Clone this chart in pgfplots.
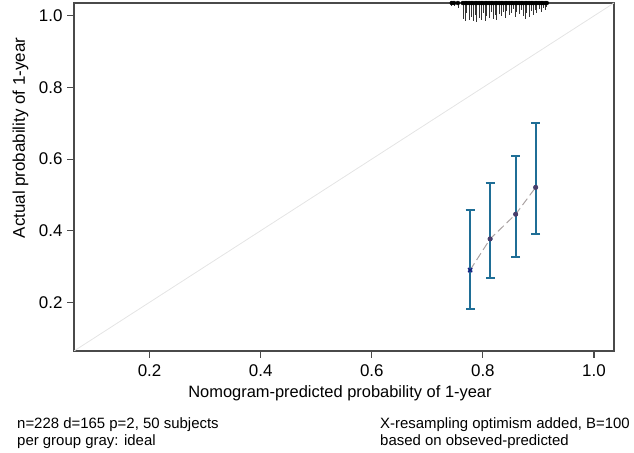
\documentclass[border=0pt]{standalone}
\usepackage{pgfplots}
\pgfplotsset{compat=1.18}
\usepackage{fontspec}
\setmainfont{Liberation Sans}
\definecolor{framegray}{HTML}{4A4A4A}
\definecolor{barteal}{HTML}{1F6E96}
\definecolor{ptpurple}{HTML}{4A3D6A}
\definecolor{ptnavy}{HTML}{1A1A80}
\definecolor{diaggray}{HTML}{E4E4E4}
\definecolor{dashgray}{HTML}{ABA3A3}
\newcommand{\tickfont}{\fontsize{17}{20}\selectfont}
\newcommand{\lblfont}{\fontsize{16.5}{19}\selectfont}
\newcommand{\smfont}{\fontsize{15}{17}\selectfont}
\begin{document}
\begin{tikzpicture}[x=1bp,y=1bp]
\begin{axis}[
  at={(0,0)}, anchor=south west,
  scale only axis, width=540bp, height=348bp,
  xmin=0.064, xmax=1.036, ymin=0.064, ymax=1.036,
  xtick={0.2,0.4,0.6,0.8,1.0}, ytick={0.2,0.4,0.6,0.8,1.0},
  xtick pos=bottom, ytick pos=left,
  tick align=outside, major tick length=7bp,
  axis line style={framegray, line width=1.1bp},
  every tick/.style={framegray, line width=1.1bp},
  tick label style={font=\tickfont, text=black},
  xticklabel style={yshift=-3bp},
  yticklabel style={xshift=-1bp},
  /pgf/number format/.cd, fixed, fixed zerofill, precision=1, assume math mode=true,
  /pgfplots/.cd,
  clip=true,
]
% ideal diagonal
\addplot[diaggray, line width=0.8bp] coordinates {(0,0) (1.1,1.1)};
% rug of predicted probabilities (spikes hanging from the top)
\addplot[black, only marks, mark=none,
  error bars/.cd, y dir=minus, y explicit, error mark=none,
  error bar style={black!80, line width=0.7bp}]
coordinates {
(0.744,1.036) -= (0,0.008)
(0.748,1.036) -= (0,0.008)
(0.755,1.036) -= (0,0.014)
(0.764,1.036) -= (0,0.045)
(0.768,1.036) -= (0,0.050)
(0.771,1.036) -= (0,0.028)
(0.775,1.036) -= (0,0.047)
(0.779,1.036) -= (0,0.039)
(0.782,1.036) -= (0,0.050)
(0.786,1.036) -= (0,0.034)
(0.789,1.036) -= (0,0.053)
(0.793,1.036) -= (0,0.042)
(0.797,1.036) -= (0,0.047)
(0.800,1.036) -= (0,0.028)
(0.804,1.036) -= (0,0.050)
(0.807,1.036) -= (0,0.036)
(0.811,1.036) -= (0,0.042)
(0.815,1.036) -= (0,0.025)
(0.818,1.036) -= (0,0.045)
(0.822,1.036) -= (0,0.034)
(0.825,1.036) -= (0,0.047)
(0.829,1.036) -= (0,0.031)
(0.833,1.036) -= (0,0.036)
(0.836,1.036) -= (0,0.025)
(0.840,1.036) -= (0,0.042)
(0.843,1.036) -= (0,0.022)
(0.847,1.036) -= (0,0.034)
(0.851,1.036) -= (0,0.028)
(0.854,1.036) -= (0,0.017)
(0.858,1.036) -= (0,0.039)
(0.861,1.036) -= (0,0.025)
(0.865,1.036) -= (0,0.031)
(0.869,1.036) -= (0,0.020)
(0.872,1.036) -= (0,0.036)
(0.876,1.036) -= (0,0.045)
(0.879,1.036) -= (0,0.028)
(0.883,1.036) -= (0,0.039)
(0.887,1.036) -= (0,0.022)
(0.890,1.036) -= (0,0.034)
(0.894,1.036) -= (0,0.020)
(0.897,1.036) -= (0,0.028)
(0.901,1.036) -= (0,0.017)
(0.905,1.036) -= (0,0.025)
(0.908,1.036) -= (0,0.014)
(0.912,1.036) -= (0,0.020)
(0.915,1.036) -= (0,0.011)
};
% error bars of calibration groups
\addplot[barteal, only marks, mark=none,
  error bars/.cd, y dir=both, y explicit,
  error bar style={barteal, line width=2bp},
  error mark options={barteal, rotate=90, mark size=4.5bp, line width=2bp}]
coordinates {
(0.777,0.290) += (0,0.168) -= (0,0.109)
(0.813,0.377) += (0,0.157) -= (0,0.108)
(0.859,0.446) += (0,0.164) -= (0,0.119)
(0.895,0.521) += (0,0.179) -= (0,0.130)
};
% connecting dashed line
\addplot[dashgray, line width=1bp, dash pattern=on 8bp off 4bp] coordinates {
(0.777,0.290) (0.813,0.377) (0.859,0.446) (0.895,0.521)
};
% point marks
\addplot[ptpurple, only marks, mark=*, mark size=2.3bp] coordinates {
(0.813,0.377) (0.859,0.446) (0.895,0.521)
};
\addplot[ptnavy, only marks, mark=x, mark size=3bp, line width=1.3bp] coordinates {
(0.777,0.290)
};
\end{axis}
% labels
\node[anchor=base, font=\lblfont] at (266,-47) {Nomogram-predicted probability of 1-year};
\node[anchor=base, rotate=90, font=\fontsize{17}{20}\selectfont] at (-49,213) {Actual probability of 1-year};
\node[anchor=base west, font=\smfont, inner sep=0pt] at (-57,-78) {n=228 d=165 p=2, 50 subjects};
\node[anchor=base west, font=\smfont, inner sep=0pt] at (-57,-95) {per group gray: ideal};
\node[anchor=base west, font=\smfont, inner sep=0pt] at (306,-78) {X-resampling optimism added, B=100};
\node[anchor=base west, font=\smfont, inner sep=0pt] at (306,-95) {based on obseved-predicted};
\pgfresetboundingbox
\path[use as bounding box] (-74,-102) rectangle (560,351);
\end{tikzpicture}
\end{document}
